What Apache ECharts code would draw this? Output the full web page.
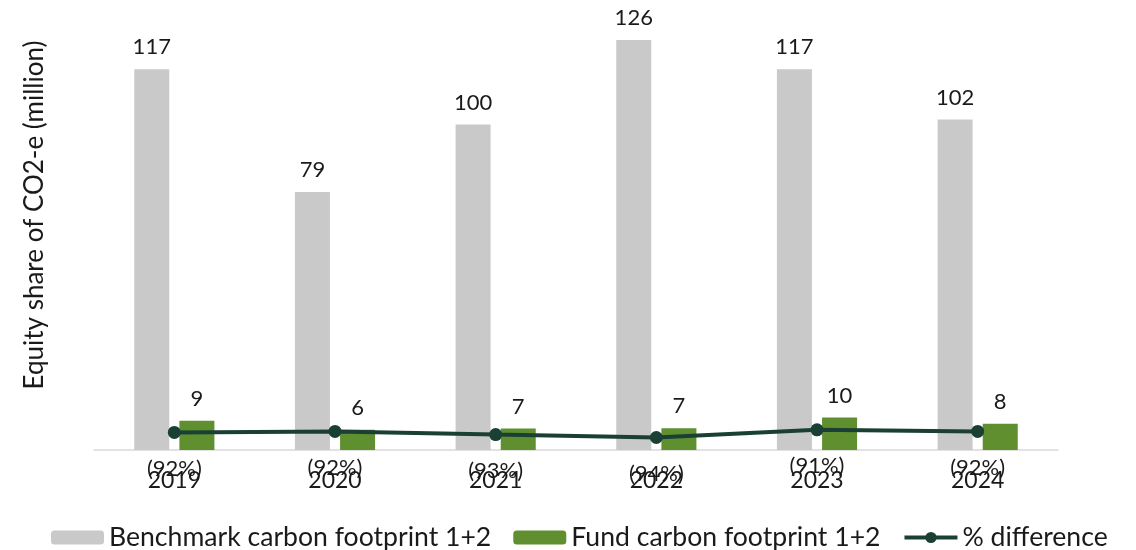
<!DOCTYPE html>
<html>
<head>
<meta charset="utf-8">
<script src="https://cdn.jsdelivr.net/npm/echarts@6/dist/echarts.min.js"></script>
<style>
html,body{margin:0;padding:0;background:#fff;}
#chart{width:1136px;height:550px;}
</style>
</head>
<body>
<div id="chart"></div>
<script>
var years = ['2019', '2020', '2021', '2022', '2023', '2024'];
var benchmark = [117, 79.3, 100, 126, 117, 101.6];
var fund = [9, 6.2, 6.6, 6.7, 10, 8.1];
var pctDiff = [-92.4, -92.0, -93.2, -94.3, -91.4, -92.0];
var seriesNames = ['Benchmark carbon footprint 1+2', 'Fund carbon footprint 1+2', '% difference'];
var yAxisTitle = 'Equity share of CO2-e (million)';

var chart = echarts.init(document.getElementById('chart'));
var font = 'Lato';
chart.setOption({
  animation: false,
  textStyle: { fontFamily: font },
  grid: { left: 94, right: 78, top: 27, bottom: 100, containLabel: false },
  legend: {
    top: 519,
    left: 46,
    itemWidth: 53,
    itemHeight: 14,
    itemGap: 22,
    lineStyle: { width: 4 },
    textStyle: { fontFamily: font, fontSize: 26.6, color: '#1a1a1a' },
    data: seriesNames
  },
  graphic: [{
    type: 'text',
    x: 35,
    y: 215,
    rotation: Math.PI / 2,
    style: {
      text: yAxisTitle,
      fontFamily: font,
      fontSize: 26,
      fill: '#1a1a1a',
      align: 'center',
      verticalAlign: 'middle'
    }
  }],
  xAxis: {
    type: 'category',
    data: years,
    axisTick: { show: false },
    axisLine: { lineStyle: { color: '#d9d9d9', width: 1.5 } },
    axisLabel: { fontFamily: font, fontSize: 23, color: '#1a1a1a', margin: 19 }
  },
  yAxis: [{
    type: 'value',
    min: 0,
    max: 130,
    show: false,
    splitLine: { show: false }
  }, {
    type: 'value',
    min: -99,
    max: 60,
    show: false,
    splitLine: { show: false }
  }],
  series: [{
    name: seriesNames[0],
    type: 'bar',
    data: benchmark,
    barWidth: 35,
    barGap: '29%',
    itemStyle: { color: '#c9c9c9' },
    label: {
      show: true, position: 'top', distance: 11,
      fontFamily: font, fontSize: 22, color: '#1a1a1a',
      formatter: function (p) { return Math.round(p.value); }
    }
  }, {
    name: seriesNames[1],
    type: 'bar',
    data: fund,
    barWidth: 35,
    itemStyle: { color: '#5f8f2f' },
    label: {
      show: true, position: 'top', distance: 11,
      fontFamily: font, fontSize: 22, color: '#1a1a1a',
      formatter: function (p) { return Math.round(p.value); }
    }
  }, {
    name: seriesNames[2],
    type: 'line',
    yAxisIndex: 1,
    data: pctDiff,
    symbol: 'circle',
    symbolSize: 13,
    z: 5,
    lineStyle: { color: '#1a4035', width: 4 },
    itemStyle: { color: '#1a4035' },
    label: {
      show: true, position: 'bottom', distance: 19,
      fontFamily: font, fontSize: 22, color: '#1a1a1a',
      formatter: function (p) { return '(' + Math.round(-p.value) + '%)'; }
    }
  }]
});
</script>
</body>
</html>
